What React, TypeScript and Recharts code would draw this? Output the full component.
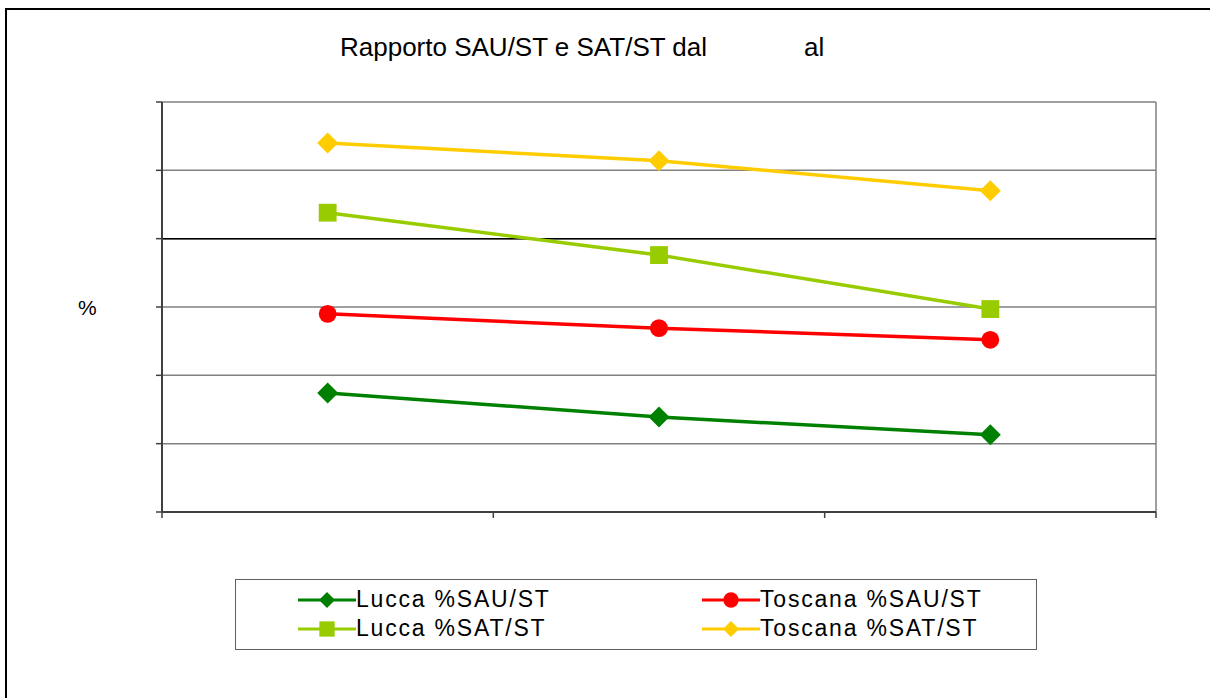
import React from "react";
import { LineChart, Line, XAxis, YAxis, CartesianGrid, ReferenceLine } from "recharts";

const categories = ["Periodo 1", "Periodo 2", "Periodo 3"];
const luccaSAU = [17.4, 13.9, 11.3];
const toscanaSAU = [29.0, 26.9, 25.2];
const luccaSAT = [43.8, 37.6, 29.7];
const toscanaSAT = [54.0, 51.4, 47.0];
const yTicks = [0, 10, 20, 30, 40, 50, 60];

const seriesDefs = [
  { key: "luccaSAU", name: "Lucca %SAU/ST", color: "#008000", shape: "diamond" },
  { key: "toscanaSAU", name: "Toscana %SAU/ST", color: "#FF0000", shape: "circle" },
  { key: "luccaSAT", name: "Lucca %SAT/ST", color: "#99CC00", shape: "square" },
  { key: "toscanaSAT", name: "Toscana %SAT/ST", color: "#FFCC00", shape: "diamond" },
];

// category slot: each category occupies one unit band; the mark sits in the middle of its band
const data = categories.map((c, i) => ({
  cat: c,
  slot: i + 0.5,
  luccaSAU: luccaSAU[i],
  toscanaSAU: toscanaSAU[i],
  luccaSAT: luccaSAT[i],
  toscanaSAT: toscanaSAT[i],
}));
const bandBoundaries = [0, ...categories.map((_, i) => i + 1)];

const marker = (shape: string, color: string, cx: number, cy: number, s: number) => {
  if (shape === "diamond") {
    return <polygon points={`${cx},${cy - s} ${cx + s},${cy} ${cx},${cy + s} ${cx - s},${cy}`} fill={color} />;
  }
  if (shape === "square") {
    const h = s * 0.85;
    return <rect x={cx - h} y={cy - h} width={2 * h} height={2 * h} fill={color} />;
  }
  return <circle cx={cx} cy={cy} r={s * 0.85} fill={color} />;
};

const makeDot = (shape: string, color: string) => (props: any) => {
  const { cx, cy, index } = props;
  if (cx == null || cy == null) return <g key={index} />;
  return <g key={index}>{marker(shape, color, cx, cy, 10.5)}</g>;
};

const font = "'Liberation Sans', Arial, sans-serif";

const LegendBox = () => {
  const item = (d: any) => (
    <div key={d.key} style={{ display: "flex", alignItems: "center", height: 29 }}>
      <svg width={62} height={24} style={{ display: "block" }}>
        <line x1={2} y1={12} x2={60} y2={12} stroke={d.color} strokeWidth={3} />
        {marker(d.shape, d.color, 31, 12, d.shape === "diamond" ? 8 : 9)}
      </svg>
      <span style={{ fontSize: 23, letterSpacing: 1.8, fontFamily: font, color: "#000", whiteSpace: "nowrap", marginLeft: -2 }}>
        {d.name}
      </span>
    </div>
  );
  return (
    <div
      style={{
        position: "absolute",
        left: 235,
        top: 579,
        width: 802,
        height: 71,
        border: "1px solid #606060",
        boxSizing: "border-box",
        display: "grid",
        gridTemplateColumns: "404px 398px",
        paddingTop: 5,
        background: "#fff",
      }}
    >
      <div style={{ paddingLeft: 60 }}>
        {item(seriesDefs[0])}
        {item(seriesDefs[2])}
      </div>
      <div style={{ paddingLeft: 60 }}>
        {item(seriesDefs[1])}
        {item(seriesDefs[3])}
      </div>
    </div>
  );
};

export default function App() {
  return (
    <div style={{ position: "absolute", left: 0, top: 0, width: 1210, height: 698, background: "#fff", overflow: "hidden" }}>
      <div
        style={{
          position: "absolute",
          left: 5,
          top: 8,
          width: 1300,
          height: 800,
          border: "2px solid #000",
        }}
      />
      <div style={{ position: "absolute", left: 340, top: 32, fontSize: 26, fontFamily: font, whiteSpace: "pre", color: "#000" }}>
        Rapporto SAU/ST e SAT/ST dal
      </div>
      <div style={{ position: "absolute", left: 804, top: 32, fontSize: 26, fontFamily: font, whiteSpace: "pre", color: "#000" }}>
        al
      </div>
      <div style={{ position: "absolute", left: 78, top: 296, fontSize: 21, fontFamily: font }}>%</div>
      <div style={{ position: "absolute", left: 0, top: 0 }}>
        <LineChart width={1210} height={698} data={data} margin={{ top: 102, right: 54, bottom: 180, left: 161 }}>
          <CartesianGrid vertical={false} horizontal={true} stroke="#808080" strokeWidth={1.5} />
          <XAxis
            dataKey="slot"
            type="number"
            domain={[0, categories.length]}
            ticks={bandBoundaries}
            interval={0}
            height={6}
            tickSize={6}
            tickFormatter={() => ""}
            axisLine={{ stroke: "#404040", strokeWidth: 2 }}
            tickLine={{ stroke: "#404040", strokeWidth: 1.5 }}
          />
          <YAxis
            width={1}
            domain={[0, 60]}
            ticks={yTicks}
            interval={0}
            tickSize={6}
            tickFormatter={() => ""}
            axisLine={{ stroke: "#404040", strokeWidth: 2 }}
            tickLine={{ stroke: "#404040", strokeWidth: 1.5 }}
          />
          <ReferenceLine x={categories.length} stroke="#808080" strokeWidth={1.5} />
          <ReferenceLine y={40} stroke="#000" strokeWidth={1.5} />
          {seriesDefs.map((d) => (
            <Line
              key={d.key}
              dataKey={d.key}
              name={d.name}
              stroke={d.color}
              strokeWidth={3.5}
              dot={makeDot(d.shape, d.color)}
              activeDot={false}
              isAnimationActive={false}
              type="linear"
            />
          ))}
        </LineChart>
      </div>
      <LegendBox />
    </div>
  );
}
